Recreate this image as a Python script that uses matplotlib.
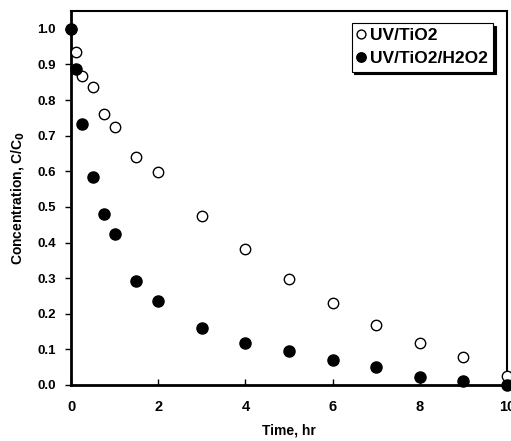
import matplotlib
matplotlib.use("Agg")
import matplotlib.pyplot as plt

plt.rcParams['font.family'] = ['Liberation Sans', 'DejaVu Sans']
plt.rcParams['font.weight'] = 'bold'
plt.rcParams['mathtext.default'] = 'bf'

# data
time_hr = [0, 0.12, 0.25, 0.5, 0.75, 1, 1.5, 2, 3, 4, 5, 6, 7, 8, 9, 10]
uv_tio2 = [1.0, 0.935, 0.868, 0.838, 0.760, 0.725, 0.640, 0.598, 0.475, 0.381,
           0.297, 0.229, 0.169, 0.117, 0.078, 0.026]
uv_tio2_h2o2 = [1.0, 0.886, 0.733, 0.583, 0.481, 0.425, 0.293, 0.236, 0.161, 0.118,
                0.095, 0.070, 0.050, 0.022, 0.010, 0.0]

fig = plt.figure(figsize=(5.11, 4.41), dpi=100)
ax = fig.add_axes([0.139, 0.127, 0.853, 0.848])

ax.plot(time_hr, uv_tio2, 'o', ms=7.5, mfc='white', mec='black', mew=1.0,
        label='UV/TiO2', clip_on=False, zorder=3)
ax.plot(time_hr, uv_tio2_h2o2, 'o', ms=8, mfc='black', mec='black',
        label='UV/TiO2/H2O2', clip_on=False, zorder=4)

ax.set_xlim(0, 10)
ax.set_ylim(0, 1.05)
ax.set_xticks([0, 2, 4, 6, 8, 10])
ax.set_yticks([0.0, 0.1, 0.2, 0.3, 0.4, 0.5, 0.6, 0.7, 0.8, 0.9, 1.0])
ax.set_yticklabels([f"{v:.1f}" for v in ax.get_yticks()])
ax.tick_params(axis='x', direction='in', length=4, width=1, labelsize=10.5, pad=11)
ax.tick_params(axis='y', direction='out', length=4, width=1, labelsize=9.5, pad=7)

for side in ['left', 'bottom']:
    ax.spines[side].set_linewidth(2)
for side in ['top', 'right']:
    ax.spines[side].set_linewidth(1.5)

ax.set_xlabel('Time, hr', fontsize=10, fontweight='bold', labelpad=7)
ax.set_ylabel('Concentration, C/C$_0$', fontsize=10, fontweight='bold', labelpad=8)

leg = ax.legend(loc='upper right', bbox_to_anchor=(0.968, 0.968), borderaxespad=0,
                frameon=True, fancybox=False, shadow={'color': 'black', 'alpha': 1},
                edgecolor='black', framealpha=1, markerscale=0.85,
                handlelength=0.5, handletextpad=0.25, borderpad=0.3, labelspacing=0.45,
                prop={'weight': 'bold', 'size': 12.5})
leg.get_frame().set_linewidth(0.8)
for t in leg.get_texts():
    t.set_fontweight('bold')

fig.savefig('out.png', dpi=100)
